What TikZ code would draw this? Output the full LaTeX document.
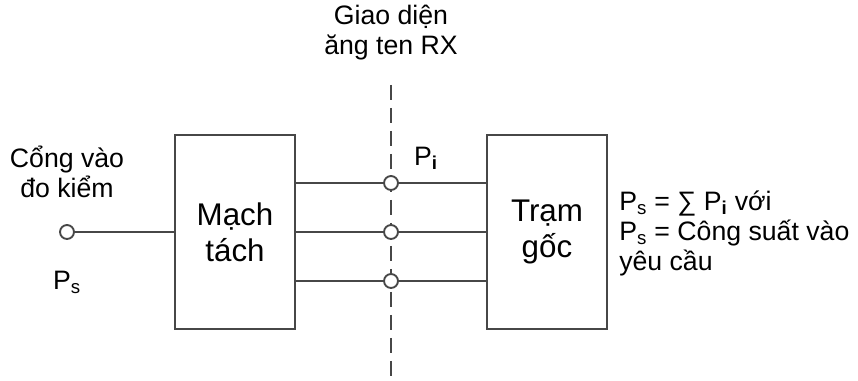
\documentclass[tikz,border=0pt]{standalone}
\usepackage{fontspec}
\setmainfont{Liberation Sans}
\begin{document}
\begin{tikzpicture}[
    x=0.75pt, y=-0.75pt,
    wire/.style={draw=black!72, line width=1.4pt},
    blk/.style={wire, minimum width=90pt, minimum height=145.5pt,
                align=center, inner sep=0pt,
                font=\fontsize{23.5}{27}\selectfont},
    port/.style={circle, wire, fill=white, minimum size=10.5pt, inner sep=0pt},
    lbl/.style={align=center, inner sep=0pt, font=\fontsize{20}{22.5}\selectfont}
  ]
  \useasboundingbox (0,0) rectangle (858,381);
  % blocks
  \node[blk] (mach) at (235,232) {Mạch\\tách};
  \node[blk] (tram) at (547,232) {Trạm\\gốc};
  % antenna interface
  \coordinate (ifctop) at (391,85);
  \coordinate (ifcbot) at (391,381);
  \draw[wire, dash pattern=on 11.25pt off 6pt] (ifctop) -- (ifcbot);
  \node[lbl] (ifclbl) at (391,33) {Giao diện\\ăng ten RX};
  \foreach \i/\yy in {1/183, 2/232, 3/281} {
    \node[port] (rx\i) at (391,\yy) {};
    \draw[wire] (mach.east |- rx\i) -- (rx\i) -- (tram.west |- rx\i);
  }
  \node[lbl] (pilbl) at (426,158) {P\textsubscript{\textbf{i}}};
  % test port
  \node[port] (test) at (67,232) {};
  \draw[wire] (test) -- (mach.west |- test);
  \node[lbl] (testlbl) at (67,172) {Cổng vào\\đo kiểm};
  \node[lbl] (pslbl) at (67,282) {P\textsubscript{s}};
  % sum note
  \node[lbl, align=left, anchor=west] (note) at (619,233)
    {P\textsubscript{s} = ∑ P\textsubscript{\textbf{i}} với\\
     P\textsubscript{s} = Công suất vào\\
     yêu cầu};
\end{tikzpicture}
\end{document}
